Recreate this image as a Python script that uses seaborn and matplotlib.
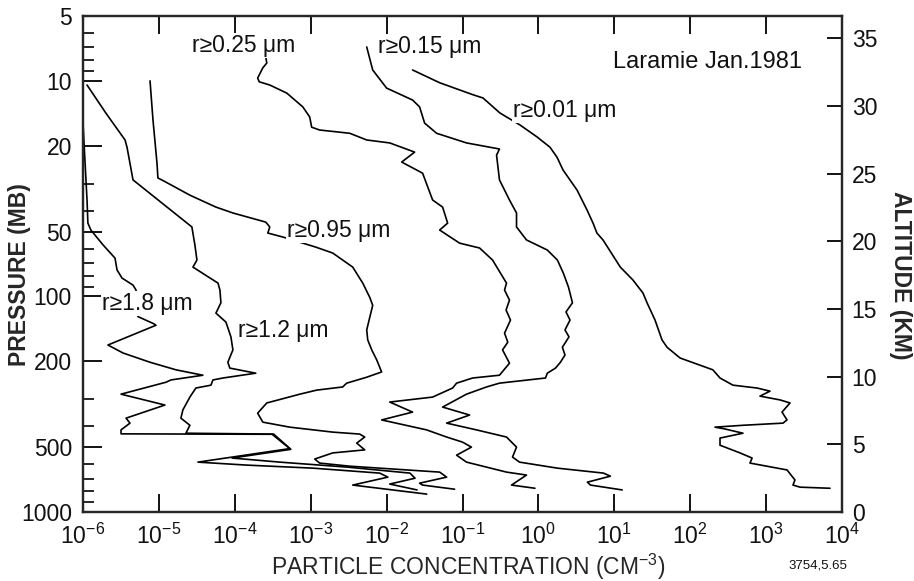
import numpy as np
import pandas as pd
import matplotlib
matplotlib.use("Agg")
import matplotlib.pyplot as plt
import seaborn as sns
from matplotlib.ticker import (FixedLocator, NullLocator, NullFormatter,
                               FuncFormatter, LogFormatterSciNotation)

# ---- balloon-borne particle counter profiles (concentration in cm^-3, pressure in mb) ----
r18_conc = [1.0e-6, 1.06e-6, 1.13e-6, 1.16e-6, 1.27e-6, 1.84e-6, 2.64e-6, 2.81e-6, 3.27e-6,
            4.56e-6, 5.0e-6, 5.0e-6, 5.3e-6, 8.6e-6, 9.16e-6, 2.13e-6, 3.37e-6, 7.64e-6,
            1.68e-5, 3.8e-5, 1.44e-5, 1.24e-5, 3.17e-6, 1.2e-5, 3.69e-6, 4.16e-6, 3.17e-6,
            3.17e-6, 3.1e-4, 5.3e-4, 3.27e-5, 1.44e-4, 1.07e-3, 8.1e-3, 1.04e-2, 3.58e-3,
            3.37e-2]
r18_pres = [15.7, 23.3, 35.7, 45.7, 49.2, 57.7, 66.4, 75.4, 82.2,
            88.6, 93.4, 118, 124, 134, 136, 168, 183, 202,
            219, 232, 244, 250, 284, 319, 367, 387, 416,
            434, 436, 508, 587, 606, 626, 660, 689, 750,
            826]

r12_conc = [1.13e-6, 2.0e-6, 3.58e-6, 3.8e-6, 4.56e-6, 1.1e-5, 2.72e-5, 2.98e-5, 3.17e-5,
            2.81e-5, 6.0e-5, 6.37e-5, 6.56e-5, 5.64e-5, 7.64e-5, 8.89e-5, 9.44e-5, 8.1e-5,
            8.6e-5, 1.89e-4, 6.97e-5, 5.15e-5, 4.85e-5, 3.07e-5, 2.56e-5, 2.07e-5, 1.95e-5,
            2.56e-5, 2.27e-5, 3.25e-4, 5.47e-4, 9.2e-5, 3.92e-4, 3.0e-3, 2.03e-2, 2.37e-2,
            1.1e-2, 2.52e-2]
r12_pres = [10.45, 14.1, 18.8, 20.3, 28.8, 36.9, 47.6, 57.7, 67.8,
            73.1, 86.7, 93.4, 107, 119.5, 131.5, 154, 177, 202,
            215, 227, 239, 244, 258, 266, 293, 336, 367,
            396, 431, 435, 512, 562, 587, 619, 660, 697,
            742, 790]

r095_conc = [7.64e-6, 8.36e-6, 9.44e-6, 9.7e-6, 1.24e-5, 2.56e-5, 5.64e-5, 9.44e-5, 2.56e-4,
             2.89e-4, 2.72e-4, 4.29e-4, 1.16e-3, 1.95e-3, 3.58e-3, 4.85e-3, 6.0e-3, 6.56e-3,
             6.0e-3, 5.47e-3, 5.64e-3, 6.37e-3, 7.41e-3, 8.6e-3, 5.47e-3, 2.98e-3, 2.64e-3,
             1.2e-3, 7.2e-4, 2.64e-4, 2.0e-4, 2.34e-4, 5.3e-4, 1.95e-3, 4.42e-3, 5.15e-3,
             4.04e-3, 5.15e-3, 1.95e-3, 1.13e-3, 1.31e-3, 3.27e-3, 8.1e-3, 5.0e-2, 6.18e-2,
             2.72e-2, 2.98e-2, 7.87e-2]
r095_pres = [10.0, 15.2, 24.1, 28.2, 29.5, 33.9, 38.5, 41.0, 45.2,
             47.6, 50.8, 53.0, 59.0, 62.9, 73.1, 86.7, 101, 110,
             125, 143, 159, 177, 197, 224, 237, 252.5, 263,
             272, 284, 312, 348, 383, 404, 426, 435, 449,
             479, 515, 532, 568, 593, 613, 626, 653, 689,
             735, 750, 784]

r025_conc = [2.49e-4, 2.64e-4, 2.34e-4, 2.0e-4, 2.1e-4, 2.89e-4, 4.85e-4, 7.87e-4, 9.7e-4,
             1.03e-3, 1.31e-3, 3.27e-3, 5.47e-3, 1.1e-2, 2.34e-2, 1.58e-2, 2.98e-2, 4.04e-2,
             5.47e-2, 6.37e-2, 5.0e-2, 9.16e-2, 1.68e-1, 2.49e-1, 3.8e-1, 3.58e-1, 4.16e-1,
             3.75e-1, 4.29e-1, 3.58e-1, 3.95e-1, 3.37e-1, 4.16e-1, 3.07e-1, 1.36e-1, 8.36e-2,
             7.41e-2, 4.04e-2, 1.1e-2, 2.2e-2, 8.6e-3, 3.37e-2, 6.18e-2, 1.0e-1, 1.31e-1,
             8.36e-2, 1.13e-1, 3.8e-1, 6.97e-1, 4.42e-1, 9.0e-1]
r025_pres = [7.35, 8.26, 8.7, 9.7, 10.1, 10.45, 11.4, 13.2, 14.7,
             16.4, 16.9, 17.5, 18.8, 19.4, 21.4, 23.8, 26.8, 35.7,
             38.5, 45.7, 49.2, 56.6, 59.6, 67.8, 86.7, 93.4, 104,
             115.6, 128.7, 148, 163, 177, 204, 232, 239, 252.5,
             266, 293, 309, 344, 374, 416, 449, 474, 500,
             545, 587, 653, 674, 750, 776]

r015_conc = [5.47e-3, 6.56e-3, 1.0e-2, 2.2e-2, 2.72e-2, 3.17e-2, 4.56e-2, 1.13e-1, 3.07e-1,
             2.81e-1, 3.07e-1, 4.16e-1, 5.15e-1, 5.15e-1, 6.97e-1, 1.31, 1.78, 2.13,
             2.49, 2.81, 2.31, 2.61, 2.24, 2.53, 2.07, 2.24, 1.95,
             1.68, 1.31, 1.24, 3.07e-1, 2.07e-1, 1.13e-1, 5.47e-2, 1.24e-1, 6.18e-2,
             1.53e-1, 3.8e-1, 5.15e-1, 4.56e-1, 5.64e-1, 1.78, 7.2, 8.89, 4.42,
             4.85, 12.7]
r015_pres = [6.96, 8.9, 10.8, 12.27, 13.2, 15.7, 17.5, 19.4, 20.7,
             22.1, 28.8, 35.7, 41.0, 47.6, 54.7, 60.9, 67.8, 77.9,
             90.5, 107, 118, 128.7, 143, 154, 172, 187, 202,
             215, 227, 239, 252.5, 263, 284, 326, 355, 387,
             416, 449, 500, 556, 587, 626, 660, 682, 727,
             750, 790]

r001_conc = [2.2e-2, 5.0e-2, 1.38e-1, 1.86e-1, 3.12e-1, 5.7e-1, 9.6e-1, 1.42, 1.76,
             2.11, 3.23, 4.37, 5.25, 5.9, 7.1, 12.0, 17.6, 23.9,
             27.0, 34.4, 42.5, 49.5, 73.5, 199, 247, 366, 760,
             1126, 830, 1525, 2066, 1620, 1886, 1670, 496, 212,
             287, 496, 247, 247, 453, 654, 613, 1886, 2400,
             2260, 2800, 6950]
r001_pres = [8.9, 10.2, 11.6, 12.0, 14.1, 16.0, 18.2, 20.3, 22.6,
             25.9, 32.1, 39.7, 45.7, 50.8, 54.7, 73.1, 83.9, 96.5,
             107, 128.7, 159, 172, 193, 219, 239, 258, 266,
             275, 290, 302, 312, 344, 374, 387, 396, 404,
             412, 431, 454, 490, 532, 562, 593, 638, 710,
             750, 767, 776]

size_labels = ["r≥1.8 μm", "r≥1.2 μm", "r≥0.95 μm", "r≥0.25 μm", "r≥0.15 μm", "r≥0.01 μm"]
profiles = [(r18_conc, r18_pres), (r12_conc, r12_pres), (r095_conc, r095_pres),
            (r025_conc, r025_pres), (r015_conc, r015_pres), (r001_conc, r001_pres)]

pressure_ticks = [5, 10, 20, 50, 100, 200, 500, 1000]
pressure_minor = [6, 7, 8, 9, 30, 40, 60, 70, 80, 90, 300, 400, 600, 700, 800, 900]
conc_ticks = [1e-6, 1e-5, 1e-4, 1e-3, 1e-2, 1e-1, 1e0, 1e1, 1e2, 1e3, 1e4]
altitude_ticks = [0, 5, 10, 15, 20, 25, 30, 35]

frames = []
for name, (c, p) in zip(size_labels, profiles):
    frames.append(pd.DataFrame({"conc": c, "pressure": p, "size": name}))
df = pd.concat(frames, ignore_index=True)

# ---- styling ----
sns.set_style("ticks")
plt.rcParams["font.family"] = ["Liberation Sans", "DejaVu Sans"]
plt.rcParams["mathtext.fontset"] = "custom"
plt.rcParams["mathtext.rm"] = "Liberation Sans"
plt.rcParams["mathtext.it"] = "Liberation Sans"
plt.rcParams["axes.linewidth"] = 1.5
plt.rcParams["text.color"] = "#111111"

W, H = 914, 581
L, R, T, B = 83, 842, 16, 512
fig = plt.figure(figsize=(W / 100, H / 100), dpi=100)
ax = fig.add_axes([L / W, 1 - B / H, (R - L) / W, (B - T) / H])

sns.lineplot(data=df, x="conc", y="pressure", units="size", estimator=None,
             sort=False, color="black", linewidth=1.2, legend=False, ax=ax)

ax.set_xscale("log")
ax.set_yscale("log")
ax.set_xlim(1e-6, 1e4)
ax.set_ylim(1000, 5)

ax.xaxis.set_major_locator(FixedLocator(conc_ticks))
ax.xaxis.set_minor_locator(NullLocator())
ax.xaxis.set_major_formatter(LogFormatterSciNotation())
ax.yaxis.set_major_locator(FixedLocator(pressure_ticks))
ax.yaxis.set_minor_locator(FixedLocator(pressure_minor))
ax.yaxis.set_major_formatter(FuncFormatter(lambda v, _: f"{v:g}"))
ax.yaxis.set_minor_formatter(NullFormatter())

ax.tick_params(axis="x", which="major", direction="in", length=13, width=1.4,
               top=True, bottom=True, labelsize=16.5, pad=8.5, colors="#111111")
ax.tick_params(axis="y", which="major", direction="in", length=14, width=1.4,
               left=True, right=False, labelsize=16.5, pad=8, colors="#111111")
ax.tick_params(axis="y", which="minor", direction="in", length=8, width=1.4,
               left=True, right=False)

# altitude scale on the right
ax2 = ax.twinx()
ax2.set_ylim(0, 36.65)
ax2.yaxis.set_major_locator(FixedLocator(altitude_ticks))
ax2.yaxis.set_major_formatter(FuncFormatter(lambda v, _: f"{v:g}"))
ax2.tick_params(axis="y", direction="in", length=11, width=1.4, labelsize=16.5,
                pad=7, colors="#111111")
for a in (ax, ax2):
    for s in a.spines.values():
        s.set_linewidth(1.6)
        s.set_visible(True)

def axfrac(px, py):
    return (px - L) / (R - L), (B - py) / (B - T)

ax.set_xlabel("PARTICLE CONCENTRATION (CM$^{\\mathdefault{-3}}$)", fontsize=16.5)
ax.xaxis.set_label_coords(*axfrac(468, 575))
ax.xaxis.label.set_va("baseline")

ax.set_ylabel("PRESSURE (MB)", fontsize=16.5, fontweight="bold")
ax.yaxis.set_label_coords(*axfrac(20, 275))
ax.yaxis.label.set_va("center")

ax2.set_ylabel("ALTITUDE (KM)", fontsize=16.5, fontweight="bold", rotation=270)
ax2.yaxis.set_label_coords(*axfrac(900, 275))
ax2.yaxis.label.set_va("center")

# curve annotations
label_pos = {
    "r≥0.25 μm": (192, 52),
    "r≥0.15 μm": (378, 53),
    "r≥0.01 μm": (513, 117),
    "r≥0.95 μm": (287, 237),
    "r≥1.8 μm": (102, 310),
    "r≥1.2 μm": (238, 337),
}
for text, (px, py) in label_pos.items():
    xf, yf = axfrac(px, py)
    ax.text(xf, yf, text, transform=ax.transAxes, fontsize=16.5, ha="left",
            va="baseline", bbox=dict(facecolor="white", edgecolor="none", pad=0.5),
            zorder=5)

xf, yf = axfrac(802, 68)
ax.text(xf, yf, "Laramie Jan.1981", transform=ax.transAxes, fontsize=17,
        ha="right", va="baseline")

fig.text(847 / W, 1 - 568 / H, "3754,5.65", fontsize=9.5, ha="right", va="baseline")

fig.savefig("out.png", dpi=100, facecolor="white")
